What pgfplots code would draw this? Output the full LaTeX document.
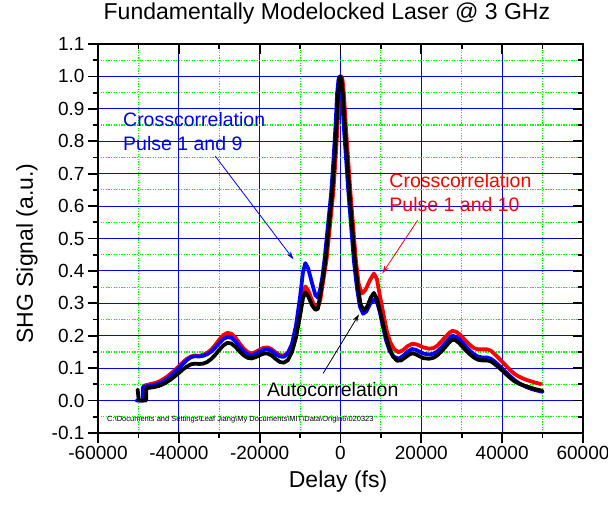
\documentclass[border=0pt]{standalone}
\usepackage{pgfplots}
\pgfplotsset{compat=1.18}
\usepackage{fontspec}
\setmainfont{Liberation Sans}
\usetikzlibrary{arrows.meta}

% Autocorrelation and two crosscorrelations, delay in fs
\pgfplotstableread{
x y
-50200 0.034
-49900 0.0
-48100 0.0
-48050 0.038
-47000 0.040
-46000 0.042
-45000 0.045
-44000 0.050
-43000 0.057
-42000 0.065
-41000 0.075
-40000 0.085
-39000 0.096
-38000 0.105
-37000 0.112
-36000 0.114
-35000 0.113
-34000 0.114
-33000 0.119
-32000 0.128
-31000 0.141
-30000 0.156
-29000 0.170
-28000 0.178
-27000 0.176
-26000 0.166
-25000 0.152
-24000 0.140
-23000 0.132
-22000 0.130
-21000 0.134
-20000 0.140
-19000 0.145
-18000 0.145
-17000 0.139
-16000 0.128
-15000 0.119
-14000 0.117
-13000 0.125
-12000 0.150
-11000 0.195
-10000 0.262
-9300 0.315
-8700 0.334
-8000 0.322
-7000 0.293
-6200 0.280
-5600 0.283
-4956 0.33
-4300 0.38
-3717 0.433
-2890 0.536
-2065 0.639
-1487 0.742
-991 0.845
-578 0.948
-250 0.99
0 1.0
250 0.99
578 0.948
1074 0.845
1652 0.742
2230 0.639
2890 0.536
3552 0.433
4295 0.35
5000 0.295
5800 0.278
6600 0.29
7500 0.318
8260 0.332
9000 0.315
9700 0.28
10330 0.247
11200 0.2
12000 0.165
13000 0.136
14000 0.123
15000 0.124
16000 0.133
17000 0.142
17800 0.146
18600 0.143
19500 0.137
20500 0.131
21900 0.129
23000 0.132
24000 0.140
25000 0.152
26000 0.166
27000 0.181
27700 0.188
28500 0.186
29300 0.178
30200 0.166
31000 0.155
32000 0.143
33000 0.133
34000 0.126
35000 0.124
36300 0.124
37200 0.121
38000 0.114
39000 0.104
40000 0.093
41000 0.081
42000 0.070
43000 0.060
44000 0.053
45000 0.048
46000 0.044
47000 0.040
48000 0.036
49000 0.033
50000 0.030
}\autocorr

\pgfplotstableread{
x y
-50500 0.0
-48950 0.0
-48900 0.042
-48000 0.044
-47000 0.046
-46000 0.048
-45000 0.052
-44000 0.058
-43000 0.066
-42000 0.076
-41000 0.088
-40000 0.100
-39000 0.113
-38000 0.125
-37000 0.134
-36000 0.137
-35000 0.136
-34000 0.138
-33000 0.143
-32000 0.151
-31000 0.163
-30000 0.177
-29000 0.190
-28000 0.196
-27000 0.194
-26000 0.183
-25000 0.167
-24000 0.153
-23000 0.143
-22000 0.140
-21000 0.144
-20000 0.151
-19000 0.157
-18000 0.158
-17000 0.153
-16000 0.143
-15000 0.136
-14000 0.135
-13000 0.146
-12000 0.175
-11000 0.232
-10000 0.320
-9300 0.395
-8700 0.424
-8000 0.408
-7000 0.360
-6200 0.325
-5600 0.318
-5000 0.345
-4500 0.38
-3967 0.433
-3140 0.536
-2315 0.639
-1737 0.742
-1241 0.845
-828 0.948
-500 0.99
-250 1.0
0 0.99
328 0.948
824 0.845
1402 0.742
1980 0.639
2640 0.536
3302 0.433
4045 0.35
4800 0.29
5600 0.268
6400 0.275
7300 0.298
8300 0.312
9100 0.302
9800 0.27
10500 0.228
11300 0.185
12200 0.152
13200 0.135
14400 0.129
15500 0.138
16600 0.151
17700 0.159
18600 0.157
19500 0.151
20500 0.145
21900 0.142
23000 0.145
24000 0.152
25000 0.164
26000 0.178
27000 0.193
27700 0.200
28500 0.197
29300 0.190
30200 0.178
31000 0.167
32000 0.154
33000 0.143
34000 0.136
35000 0.133
36300 0.133
37200 0.129
38000 0.122
39000 0.111
40000 0.099
41000 0.087
42000 0.075
43000 0.064
44000 0.055
45000 0.048
46000 0.042
47000 0.037
48000 0.033
49000 0.030
50000 0.027
}\crossnine

\pgfplotstableread{
x y
-49300 0.0
-48700 0.0
-48600 0.046
-48000 0.048
-47000 0.051
-46000 0.054
-45000 0.058
-44000 0.065
-43000 0.073
-42000 0.083
-41000 0.094
-40000 0.106
-39000 0.118
-38000 0.129
-37000 0.136
-36000 0.139
-35000 0.138
-34000 0.141
-33000 0.147
-32000 0.157
-31000 0.171
-30000 0.188
-29000 0.202
-28000 0.209
-27000 0.206
-26000 0.194
-25000 0.177
-24000 0.161
-23000 0.150
-22000 0.145
-21000 0.150
-20000 0.157
-19000 0.163
-18000 0.164
-17000 0.158
-16000 0.148
-15000 0.140
-14000 0.139
-13000 0.148
-12000 0.172
-11000 0.218
-10000 0.282
-9300 0.333
-8700 0.352
-8000 0.340
-7000 0.308
-6200 0.288
-5600 0.288
-5000 0.31
-4400 0.36
-3467 0.433
-2640 0.536
-1815 0.639
-1237 0.742
-741 0.845
-328 0.948
0 0.99
250 1.0
500 0.99
828 0.948
1324 0.845
1902 0.742
2480 0.639
3140 0.536
3802 0.433
4500 0.36
5300 0.330
6200 0.342
7300 0.372
8260 0.392
9000 0.375
9800 0.32
10700 0.262
11500 0.212
12300 0.180
13300 0.158
14400 0.149
15500 0.156
16600 0.168
17700 0.175
18600 0.174
19500 0.170
20500 0.164
21900 0.160
23000 0.162
24000 0.170
25000 0.183
26000 0.197
27000 0.210
27700 0.215
28500 0.213
29300 0.206
30200 0.195
31000 0.184
32000 0.172
33000 0.162
34000 0.158
35000 0.158
36300 0.158
37200 0.154
38000 0.145
39000 0.133
40000 0.120
41000 0.107
42000 0.094
43000 0.083
44000 0.075
45000 0.069
46000 0.064
47000 0.060
48000 0.056
49000 0.053
49600 0.051
}\crossten

\pgfplotsset{
  frame/.style={
    width=485pt, height=389pt, scale only axis,
    xmin=-60000, xmax=60000, ymin=-0.1, ymax=1.1,
    xtick={-60000,-40000,-20000,0,20000,40000,60000},
    ytick={-0.1,0,0.1,0.2,0.3,0.4,0.5,0.6,0.7,0.8,0.9,1.0,1.1},
    minor x tick num=1, minor y tick num=1,
    major tick length=10pt, minor tick length=5pt,
    tick style={black, line width=1.8pt},
    axis line style={line width=2.2pt},
    scaled x ticks=false, scaled y ticks=false,
  }
}

\begin{document}
\begin{tikzpicture}
\useasboundingbox (-98pt,-71pt) rectangle (510pt,433pt);
\begin{axis}[frame,
  xtick pos=left, ytick pos=left, tick align=outside,
  grid=both,
  major grid style={blue, line width=1pt},
  minor grid style={color=green, line width=1.1pt, dash pattern=on 1.3pt off 1.3pt},
  /pgf/number format/assume math mode=true,
  tick label style={font=\fontsize{19}{19}\selectfont},
  x tick label style={/pgf/number format/1000 sep={}},
  y tick label style={/pgf/number format/fixed, /pgf/number format/fixed zerofill, /pgf/number format/precision=1},
  title={Fundamentally Modelocked Laser @ 3 GHz},
  title style={font=\fontsize{23}{23}\selectfont, at={(axis description cs:0.472,1.064)}, anchor=center},
  xlabel={Delay (fs)},
  xlabel style={font=\fontsize{23}{23}\selectfont, at={(axis description cs:0.495,-0.126)}, anchor=center},
  ylabel={SHG Signal (a.u.)},
  ylabel style={font=\fontsize{23}{23}\selectfont, at={(axis description cs:-0.1464,0.4614)}, anchor=center},
  every axis plot/.append style={line width=3.8pt, line join=round, line cap=round, no markers},
]
\addplot[red] table {\crossten};
\addplot[blue] table {\crossnine};
\addplot[black] table {\autocorr};

\draw[blue, line width=0.8pt, -{Stealth[length=8pt,width=5pt]}] (axis cs:-30975,0.754) -- (axis cs:-11650,0.436);
\draw[red, line width=0.8pt, -{Stealth[length=8pt,width=5pt]}] (axis cs:19080,0.556) -- (axis cs:10330,0.392);
\draw[black, line width=0.8pt, -{Stealth[length=8pt,width=5pt]}] (axis cs:-4290,0.084) -- (axis cs:4580,0.266);

\node[blue, anchor=base west, inner sep=0pt, font=\fontsize{19.5}{19.5}\selectfont] at (axis description cs:0.0515,0.7874) {Crosscorrelation};
\node[blue, anchor=base west, inner sep=0pt, font=\fontsize{19.5}{19.5}\selectfont] at (axis description cs:0.0515,0.7257) {Pulse 1 and 9};
\node[red, anchor=base west, inner sep=0pt, font=\fontsize{19.5}{19.5}\selectfont] at (axis description cs:0.6006,0.6316) {Crosscorrelation};
\node[red, anchor=base west, inner sep=0pt, font=\fontsize{19.5}{19.5}\selectfont] at (axis description cs:0.6006,0.5689) {Pulse 1 and 10};
\node[black, anchor=base west, inner sep=0pt, font=\fontsize{19.5}{19.5}\selectfont] at (axis description cs:0.3485,0.0951) {Autocorrelation};
\node[black, anchor=base west, inner sep=0pt, font=\fontsize{7.5}{7.5}\selectfont] at (axis description cs:0.0186,0.0308) {C:\textbackslash Documents and Settings\textbackslash Leaf Jiang\textbackslash My Documents\textbackslash MIT\textbackslash Data\textbackslash Origin6\textbackslash 020323};
\end{axis}
% ticks pointing inward along the top and right edges
\begin{axis}[frame,
  xtick pos=right, ytick pos=right, tick align=inside,
  xticklabels={}, yticklabels={},
]
\end{axis}
\end{tikzpicture}
\end{document}
